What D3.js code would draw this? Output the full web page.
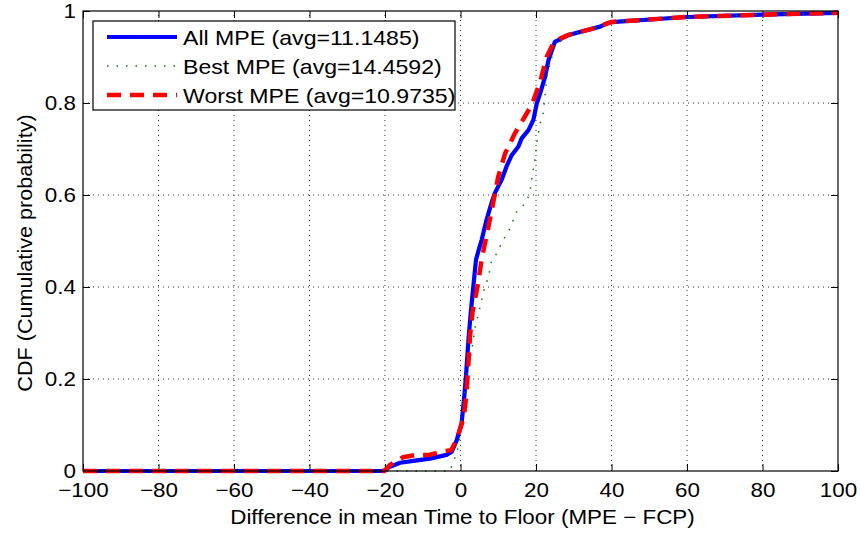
<!DOCTYPE html>
<html><head><meta charset="utf-8">
<script src="https://cdn.jsdelivr.net/npm/d3@7"></script>
<style>body{margin:0;background:#fff;} svg{display:block;}</style>
</head><body>
<script>
const xTicks = [-100,-80,-60,-40,-20,0,20,40,60,80,100];
const yTicks = [0,0.2,0.4,0.6,0.8,1];
const seriesNames = ["All MPE (avg=11.1485)","Best MPE (avg=14.4592)","Worst MPE (avg=10.9735)"];

const allX = [-100,-20.4,-18.7,-16,-12.5,-8.1,-3.7,-2.3,-1.0,0.3,1.0,1.5,2.1,2.7,3.4,4.1,4.8,5.6,6.9,8.3,9.1,10.9,12.2,13.6,15.3,16.2,18.0,19.3,20.2,21.1,22.4,23.3,25.0,28.6,37,38.5,40,60,80,100];
const allY = [0,0,0.009,0.018,0.022,0.027,0.035,0.042,0.067,0.104,0.162,0.212,0.285,0.343,0.401,0.459,0.48,0.502,0.546,0.585,0.604,0.633,0.662,0.687,0.705,0.723,0.741,0.763,0.799,0.821,0.857,0.893,0.933,0.948,0.966,0.972,0.976,0.987,0.992,0.996];

const bestX = [-100,-2.8,-1.9,-1.0,0.05,0.7,1.6,3.0,3.8,5.0,5.9,6.5,7.4,8.3,10.0,10.9,12.7,14.9,17.5,18.4,19.1,19.7,20.2,21.1,21.9,22.4,23.0,24.2,25.0,26.4,28.6,37,38.5,40,60,80,100];
const bestY = [0,0,0.02,0.038,0.082,0.147,0.205,0.263,0.31,0.35,0.383,0.401,0.422,0.459,0.477,0.498,0.52,0.564,0.585,0.607,0.647,0.676,0.712,0.756,0.778,0.817,0.864,0.9,0.922,0.933,0.948,0.966,0.972,0.976,0.987,0.992,0.996];

const worstX = [-100,-20.2,-18.7,-15.2,-11.6,-8.3,-5.0,-2.5,-1.5,-0.6,0.9,1.6,2.1,2.5,3.2,4.5,5.6,6.2,7.4,8.7,10.0,11.8,14.4,16.2,18.9,21.1,22.8,24.6,26.4,28.6,37,38.5,40,60,80,100];
const worstY = [0,0,0.013,0.03,0.035,0.035,0.042,0.045,0.06,0.078,0.118,0.169,0.234,0.292,0.346,0.401,0.459,0.484,0.531,0.585,0.64,0.69,0.734,0.759,0.796,0.846,0.9,0.93,0.94,0.948,0.966,0.972,0.976,0.987,0.992,0.996];

const W = 860, H = 536;
const m = {left:83, right:22, top:11, bottom:65};
const FONT = "'Liberation Sans', Arial, sans-serif";
const svg = d3.select("body").append("svg").attr("width",W).attr("height",H)
  .style("font-family",FONT);
const x = d3.scaleLinear().domain([-100,100]).range([m.left, W-m.right]);
const y = d3.scaleLinear().domain([0,1]).range([H-m.bottom, m.top]);

function stretch(sel, f){
  sel.each(function(){
    const L = this.getComputedTextLength();
    if(L>0){ d3.select(this).attr("textLength",L*f).attr("lengthAdjust","spacingAndGlyphs"); }
  });
}

// grid
const g = svg.append("g");
g.selectAll(".gx").data(xTicks.slice(1,-1)).enter().append("line")
  .attr("x1",d=>x(d)).attr("x2",d=>x(d)).attr("y1",y(0)).attr("y2",y(1))
  .attr("stroke","#000").attr("stroke-width",0.8).attr("stroke-dasharray","1,4");
g.selectAll(".gy").data(yTicks.slice(1,-1)).enter().append("line")
  .attr("y1",d=>y(d)).attr("y2",d=>y(d)).attr("x1",x(-100)).attr("x2",x(100))
  .attr("stroke","#000").attr("stroke-width",0.8).attr("stroke-dasharray","1,4");

// axes
const tl = 7;
const xb = svg.append("g").attr("transform",`translate(0,${y(0)})`)
  .call(d3.axisBottom(x).tickValues(xTicks).tickSize(-tl).tickPadding(12)
    .tickFormat(d=>d<0?"\u2212"+Math.abs(d):d));
const xt = svg.append("g").attr("transform",`translate(0,${y(1)})`)
  .call(d3.axisTop(x).tickValues(xTicks).tickSize(-tl).tickFormat(""));
const yl = svg.append("g").attr("transform",`translate(${x(-100)},0)`)
  .call(d3.axisLeft(y).tickValues(yTicks).tickSize(-tl).tickPadding(7)
    .tickFormat(d=>d===0||d===1?d:d3.format(".1f")(d)));
const yr = svg.append("g").attr("transform",`translate(${x(100)},0)`)
  .call(d3.axisRight(y).tickValues(yTicks).tickSize(-tl).tickFormat(""));
[xb,xt,yl,yr].forEach(a=>{
  a.select(".domain").remove();
  a.selectAll("line").attr("stroke","#000").attr("stroke-width",1);
  a.selectAll("text").attr("fill","#000").style("font-size","20px").style("font-family",FONT);
});
xb.selectAll("text").attr("dy","0.71em");
stretch(xb.selectAll("text"),1.12);
stretch(yl.selectAll("text"),1.12);

// lines
const line = d3.line().x(d=>x(d[0])).y(d=>y(d[1]));
const pts = (xs,ys)=>xs.map((v,i)=>[v,ys[i]]);
const plot = svg.append("g");
plot.append("path").attr("d",line(pts(allX,allY))).attr("fill","none")
  .attr("stroke","#0000ff").attr("stroke-width",4.2).attr("stroke-linejoin","round");
plot.append("path").attr("d",line(pts(bestX,bestY))).attr("fill","none")
  .attr("stroke","#008000").attr("stroke-width",1.5).attr("stroke-dasharray","1.5,8");
plot.append("path").attr("d",line(pts(worstX,worstY))).attr("fill","none")
  .attr("stroke","#ff0000").attr("stroke-width",4.5).attr("stroke-dasharray","14,9");

// box
svg.append("rect").attr("x",x(-100)).attr("y",y(1)).attr("width",x(100)-x(-100)).attr("height",y(0)-y(1))
  .attr("fill","none").attr("stroke","#000").attr("stroke-width",1.2);

// legend
const lg = svg.append("g");
lg.append("rect").attr("x",93).attr("y",21).attr("width",362).attr("height",89)
  .attr("fill","#fff").attr("stroke","#000").attr("stroke-width",1.2);
const styles = [
  {c:"#0000ff",w:4.2,d:null},
  {c:"#008000",w:1.5,d:"1.5,8"},
  {c:"#ff0000",w:4.5,d:"14,9"}];
seriesNames.forEach((n,i)=>{
  const yy = 37 + i*29;
  const l = lg.append("line").attr("x1",107).attr("x2",177).attr("y1",yy).attr("y2",yy)
    .attr("stroke",styles[i].c).attr("stroke-width",styles[i].w);
  if(styles[i].d) l.attr("stroke-dasharray",styles[i].d);
  const t = lg.append("text").attr("x",183).attr("y",yy).attr("dy","0.36em").text(n)
    .style("font-size","21px").attr("fill","#000");
  stretch(t,1.1);
});

// axis titles
const xtT = svg.append("text").attr("x",x(0)+2).attr("y",524).attr("text-anchor","middle")
  .style("font-size","20px").text("Difference in mean Time to Floor (MPE \u2212 FCP)");
stretch(xtT,1.12);
const ytT = svg.append("text").attr("transform",`translate(32,${y(0.5)+12}) rotate(-90)`).attr("text-anchor","middle")
  .style("font-size","20px").text("CDF (Cumulative probability)");
stretch(ytT,1.08);
</script>
</body></html>
